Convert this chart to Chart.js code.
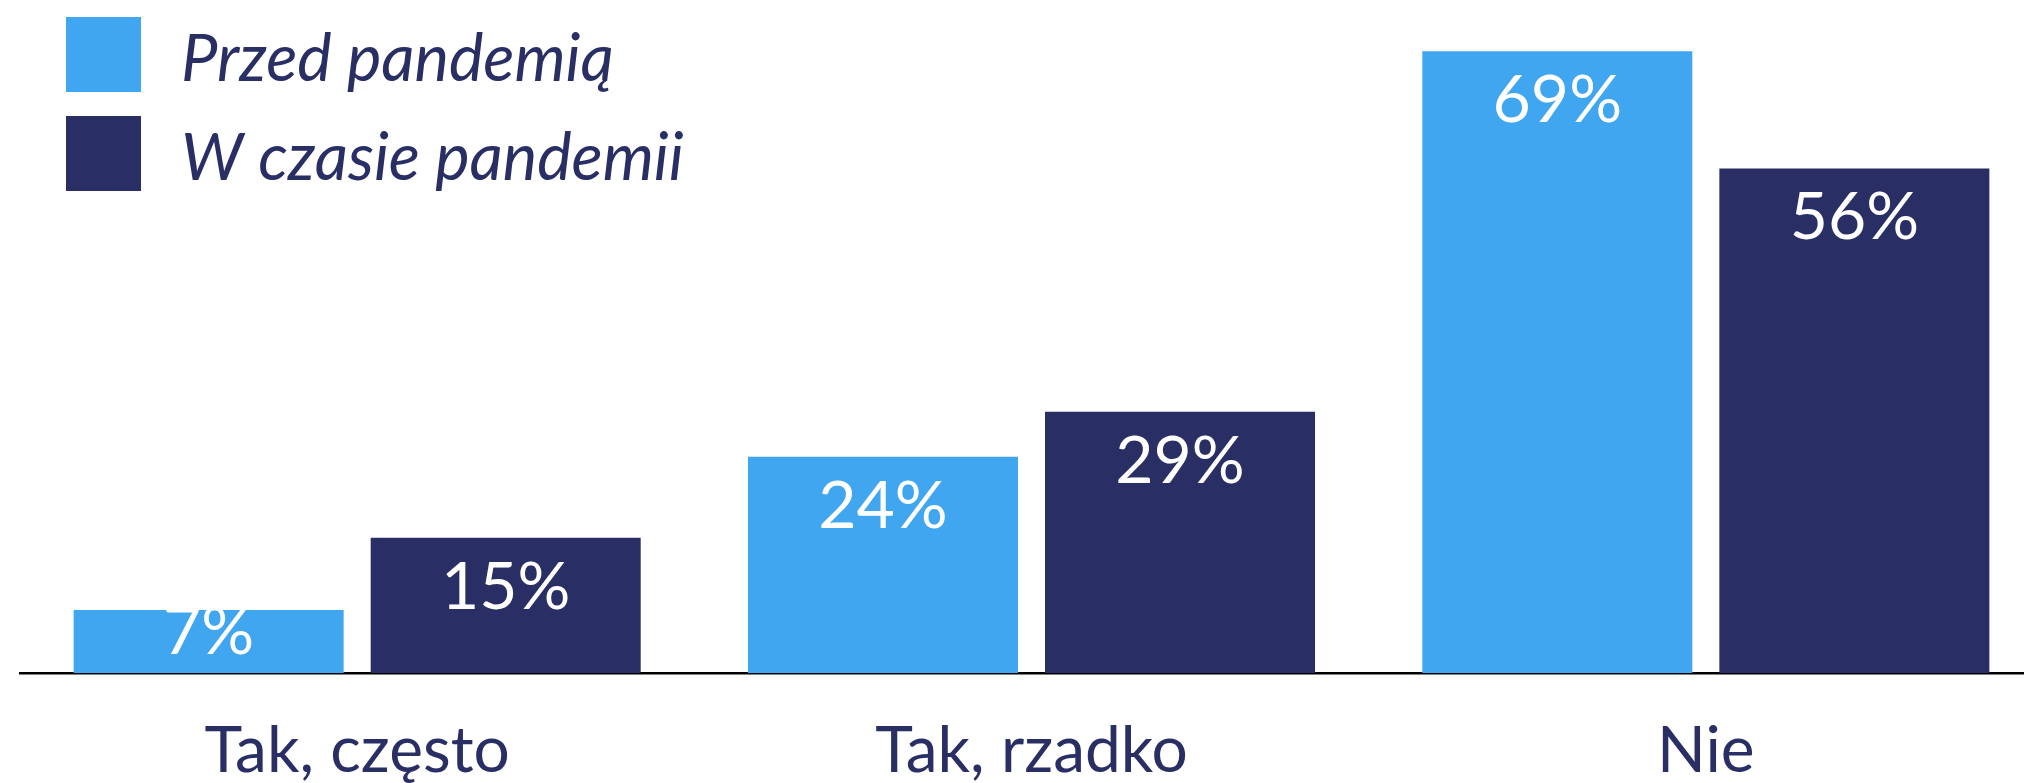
<!DOCTYPE html>
<html>
<head>
<meta charset="utf-8">
<script src="https://cdn.jsdelivr.net/npm/chart.js@4"></script>
<style>
    html, body { margin: 0; padding: 0; background: #fff; overflow: hidden; }
</style>
</head>
<body>
<canvas id="chart" width="2044" height="783"></canvas>
<script>
const categories = ['Tak, często', 'Tak, rzadko', 'Nie'];
const seriesNames = ['Przed pandemią', 'W czasie pandemii'];
const beforeValues = [7, 24, 69];
const duringValues = [15, 29, 56];

const LIGHT = '#40a6ef';
const NAVY = '#292e64';

Chart.defaults.font.family = 'Lato';

// value labels inside the bars, white, near the top
const valueLabels = {
    id: 'value_labels',
    afterDatasetsDraw: chart => {
        const ctx = chart.ctx;
        ctx.save();
        ctx.fillStyle = '#fff';
        ctx.font = '66px Lato';
        ctx.textAlign = 'center';
        ctx.textBaseline = 'alphabetic';
        chart.data.datasets.forEach((ds, i) => {
            chart.getDatasetMeta(i).data.forEach((bar, j) => {
                const y = Math.min(bar.y + 71, bar.base - 19);
                ctx.fillText(ds.data[j] + '%', bar.x, y);
            });
        });
        ctx.restore();
    },
};

// legend stacked in the top-left corner
const cornerLegend = {
    id: 'corner_legend',
    afterDraw: chart => {
        const ctx = chart.ctx;
        ctx.save();
        ctx.font = 'italic 65px Lato';
        ctx.textBaseline = 'alphabetic';
        chart.data.datasets.forEach((ds, i) => {
            const top = 17 + i * 99;
            ctx.fillStyle = ds.backgroundColor;
            ctx.fillRect(66, top, 75, 75);
            ctx.fillStyle = NAVY;
            ctx.fillText(ds.label, 181, top + 64);
        });
        ctx.restore();
    },
};

const config = {
    type: 'bar',
    data: {
        labels: categories,
        datasets: [
            { label: seriesNames[0], data: beforeValues, backgroundColor: LIGHT },
            { label: seriesNames[1], data: duringValues, backgroundColor: NAVY },
        ],
    },
    options: {
        responsive: false,
        animation: false,
        layout: { padding: { left: 20, right: 1, top: 0, bottom: 0 } },
        categoryPercentage: 0.881,
        barPercentage: 0.909,
        plugins: {
            legend: { display: false },
            tooltip: { enabled: false },
        },
        scales: {
            x: {
                grid: { display: false, drawTicks: false },
                border: { display: true, color: '#000', width: 2.5 },
                ticks: { color: NAVY, font: { size: 64 }, padding: 40 },
                afterFit: scale => { scale.height = 110; },
            },
            y: {
                display: false,
                min: 0,
                max: 74.7,
            },
        },
    },
    plugins: [valueLabels, cornerLegend],
};

new Chart(document.getElementById('chart'), config);
</script>
</body>
</html>
